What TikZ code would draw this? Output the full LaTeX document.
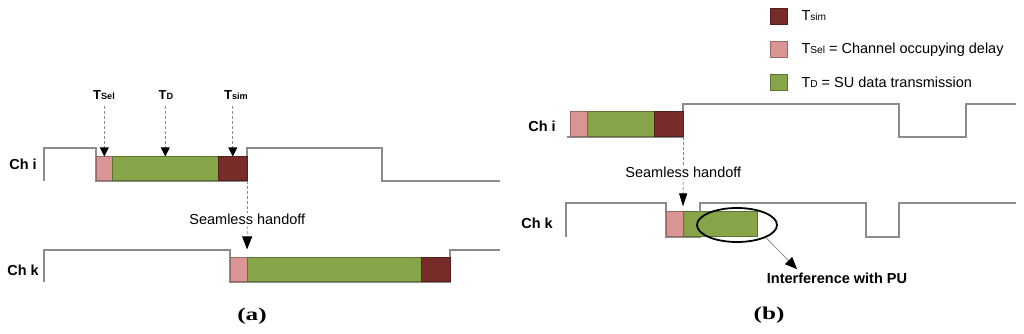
\documentclass[tikz,border=0pt]{standalone}
\usepackage{fontspec}
\setmainfont{Liberation Sans}
\newfontfamily\capfont{Liberation Serif}
\usetikzlibrary{positioning,arrows.meta,shapes.geometric}
\definecolor{selc}{HTML}{DA9694}
\definecolor{datac}{HTML}{85A548}
\definecolor{simc}{HTML}{772C2A}
\definecolor{wavec}{HTML}{8C8C8C}
\newcommand{\tsub}[1]{T\scalebox{0.7}{#1}}

\begin{document}
\begin{tikzpicture}[x=1pt, y=-1pt, font=\fontsize{14.5}{16}\selectfont,
    wave/.style={draw=wavec, line width=1.2pt},
    seg/.style={draw=#1!70!black, fill=#1, line width=0.6pt, anchor=south west,
                inner sep=0pt, minimum height=24pt},
    lgbox/.style={draw=#1!70!black, fill=#1, line width=0.6pt, inner sep=0pt,
                  minimum width=17pt, minimum height=16pt},
    ch/.style={font=\fontsize{14.5}{16}\selectfont\bfseries},
    tl/.style={font=\fontsize{13}{15}\selectfont\bfseries, inner sep=2pt},
    dar/.style={draw=wavec, line width=0.8pt, dash pattern=on 3pt off 2pt,
                -{Triangle[width=9pt, length=9pt, black]}},
    hand/.style={draw=wavec, line width=0.8pt, dash pattern=on 3pt off 2pt,
                 -{Triangle[width=10pt, length=13pt, black]}},
    capt/.style={font=\capfont\fontsize{18}{20}\selectfont\bfseries}]
    \useasboundingbox (0,0) rectangle (1024,334);

    % (a)
    \draw[wave] (44,181) -- (44,148) -- (96,148) -- (96,181) -- (247,181) -- (247,148)
      -- (382,148) -- (382,181) -- (500,181);
    \draw[wave] (44,282) -- (44,250) -- (230,250) -- (230,282) -- (450,282) -- (450,250)
      -- (500,250);

    \node[seg=selc,  minimum width=16pt]  (ai-s) at (96,181)  {};
    \node[seg=datac, minimum width=106pt] (ai-d) at (112,181) {};
    \node[seg=simc,  minimum width=29pt]  (ai-m) at (218,181) {};
    \node[seg=selc,  minimum width=17pt]  (ak-s) at (230,282) {};
    \node[seg=datac, minimum width=174pt] (ak-d) at (247,282) {};
    \node[seg=simc,  minimum width=29pt]  (ak-m) at (421,282) {};

    \node[ch] (a-chi) at (23,164) {Ch i};
    \node[ch] (a-chk) at (23,270) {Ch k};

    \node[tl] (l-sel) at (104,95) {\tsub{Sel}};
    \node[tl] (l-d)   at (166,95) {\tsub{D}};
    \node[tl] (l-sim) at (236,95) {\tsub{sim}};
    \foreach \a/\b in {l-sel/ai-s, l-d/ai-d, l-sim/ai-m}
      \draw[dar, shorten <=4pt] (\a.south -| \b.north) -- (\b.north);

    \draw[hand, shorten >=8pt] (ai-m.south east) -- node[pos=.5, fill=white, inner sep=1pt]
      {Seamless handoff} (ak-d.north west);

    \node[capt] (cap-a) at (252,316) {\scalebox{1.4}[1]{(a)}};

    % (b)
    \node[lgbox=simc]  (lg-m) at (778.5,16)   {};
    \node[lgbox=selc]  (lg-s) at (778.5,49.5) {};
    \node[lgbox=datac] (lg-d) at (778.5,82.5) {};
    \node[right=14pt of lg-m, inner sep=0pt] (lt-m) {\tsub{sim}};
    \node[right=14pt of lg-s, inner sep=0pt] (lt-s) {\tsub{Sel} = Channel occupying delay};
    \node[right=14pt of lg-d, inner sep=0pt] (lt-d) {\tsub{D} = SU data transmission};

    \draw[wave] (567,137) -- (683,137) -- (683,104) -- (899,104) -- (899,137) -- (966,137)
      -- (966,104) -- (1016,104);
    \draw[wave] (566,237) -- (566,203) -- (666,203) -- (666,237) -- (700,237) -- (700,203)
      -- (866,203) -- (866,237) -- (899,237) -- (899,203) -- (1016,203);

    \node[seg=selc,  minimum width=17pt, minimum height=25pt] (bi-s) at (570,137) {};
    \node[seg=datac, minimum width=67pt, minimum height=25pt] (bi-d) at (587,137) {};
    \node[seg=simc,  minimum width=29pt, minimum height=25pt] (bi-m) at (654,137) {};
    \node[seg=selc,  minimum width=17pt, minimum height=25pt] (bk-s) at (666,237) {};
    \node[seg=datac, minimum width=74pt, minimum height=25pt] (bk-d) at (683,237) {};
    \draw[wave] (700,203) -- (700,212);

    \node[ch] (b-chi) at (542,126) {Ch i};
    \node[ch] (b-chk) at (537,223) {Ch k};

    \draw[hand, shorten >=5pt, -{Triangle[width=8pt, length=13pt, black]}] (bi-m.south east)
      -- node[pos=.48, fill=white, inner sep=1pt] {Seamless handoff} (bk-d.north west);

    \node[ellipse, draw=black, line width=1.8pt, minimum width=80pt, minimum height=34pt,
      inner sep=0pt] (pu) at (737,225) {};
    \node[ch] (intf) at (837,278) {Interference with PU};
    \draw[draw=wavec, line width=0.8pt, -{Triangle[width=10pt, length=12pt, black]}]
      (pu.south east) -- ([xshift=-40pt]intf.north);

    \node[capt] (cap-b) at (769,315) {\scalebox{1.4}[1]{(b)}};
\end{tikzpicture}
\end{document}
